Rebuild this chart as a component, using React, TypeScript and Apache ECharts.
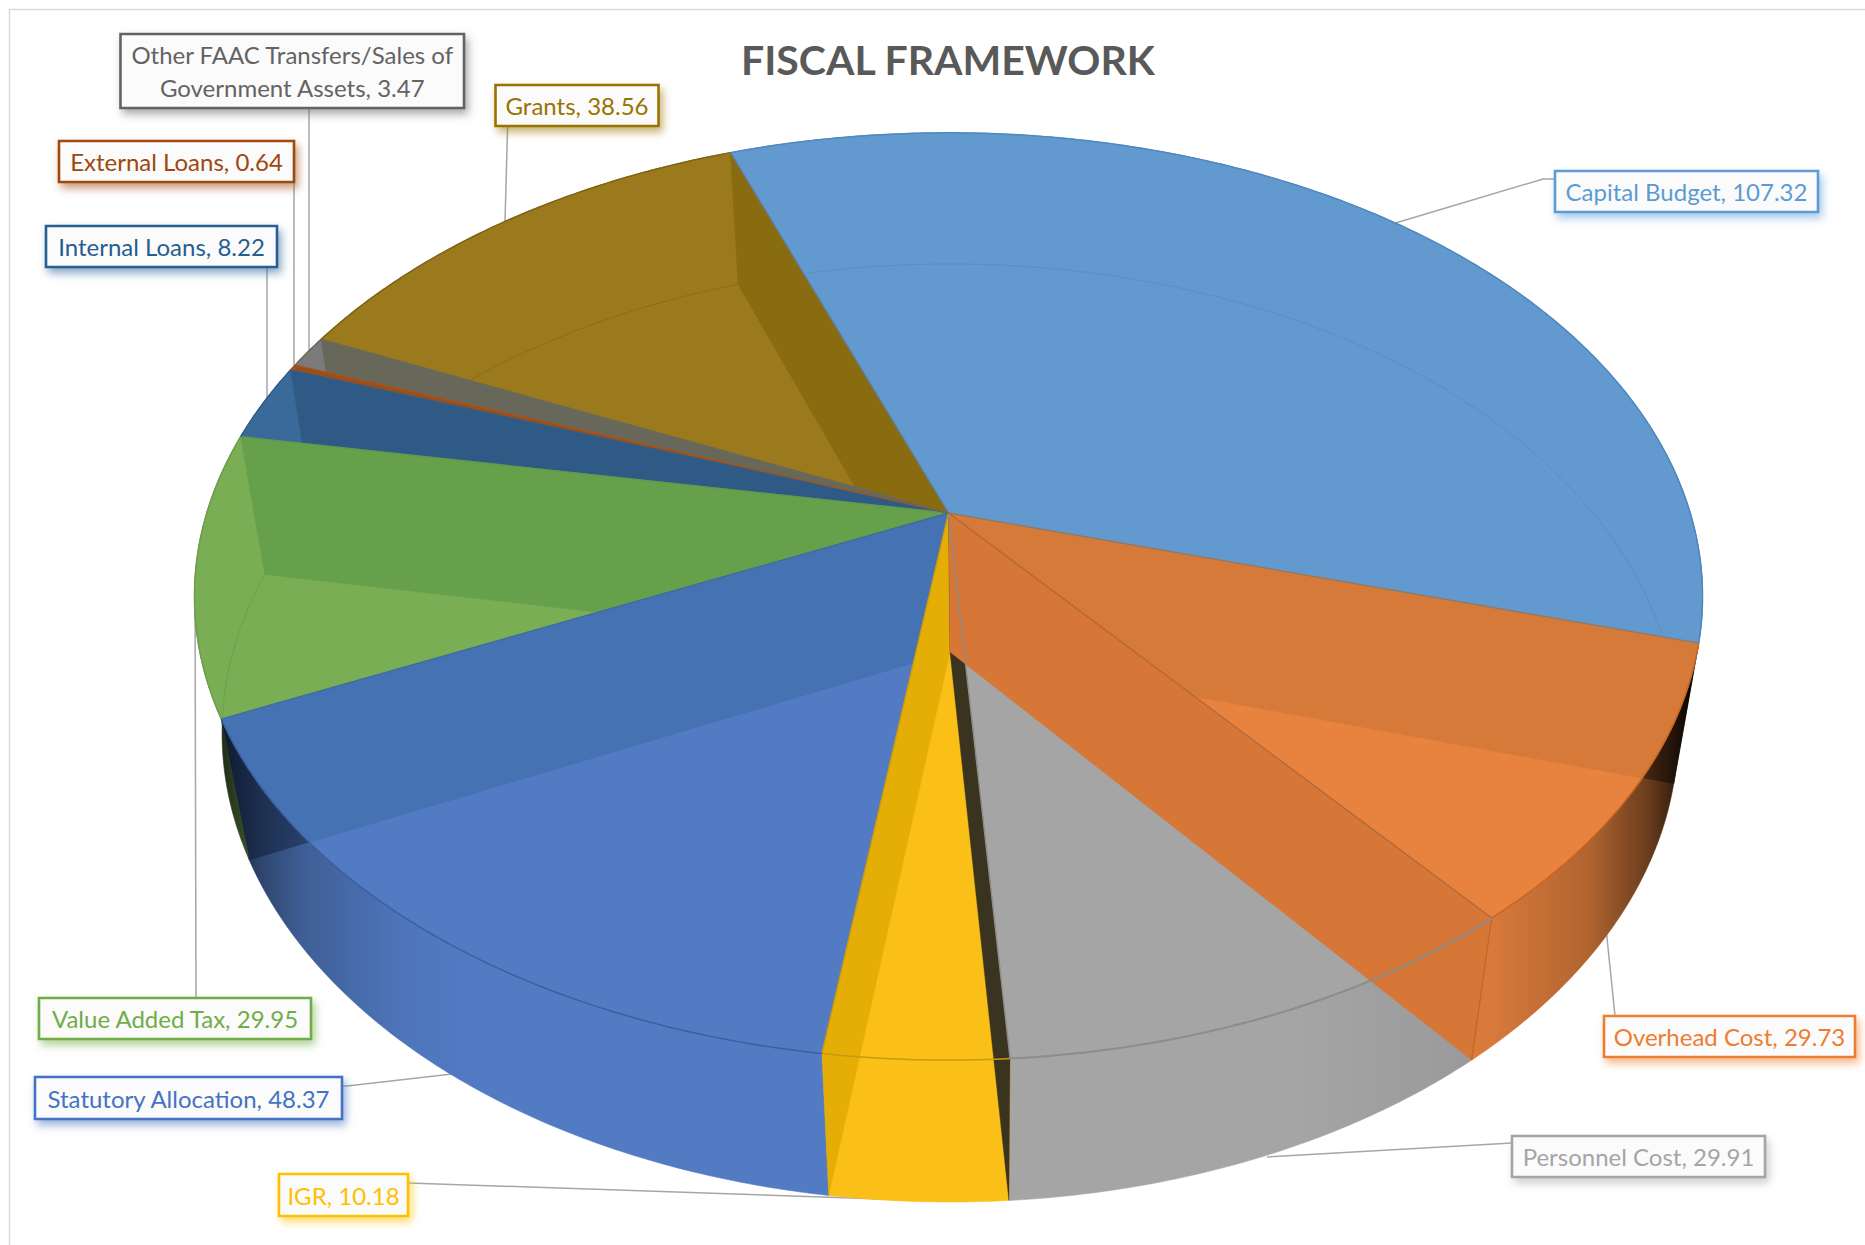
import React, { useEffect, useRef } from "react";
import * as echarts from "echarts";

// Budget items, clockwise from the first slice
const categories = [
  "Capital Budget",
  "Overhead Cost",
  "Personnel Cost",
  "IGR",
  "Statutory Allocation",
  "Value Added Tax",
  "Internal Loans",
  "External Loans",
  "Other FAAC Transfers/Sales of Government Assets",
  "Grants",
];
const values = [107.32, 29.73, 29.91, 10.18, 48.37, 29.95, 8.22, 0.64, 3.47, 38.56];

type Pt = number[];
const W = 1865;
const H = 1245;
const FONT = "Lato";
const START_ANGLE = -20.1;

// Perspective views of the disc's upper and lower faces
const upperFace = { cx: 948.5, cy: 513, a: 741.7, b: 448.6, k: 0.18 };
const lowerFace = { cx: 950, cy: 652, a: 717, b: 455, k: 0.1727 };

const faceColors = ["#6299CE", "#E8833F", "#A5A5A5", "#FAC017", "#527BC4", "#7AAE55", "#3A6A9A", "#A5541C", "#7B7B7B", "#9A7A1C"];
const labelColors = ["#5B9BD5", "#ED7D31", "#A5A5A5", "#FFC000", "#4472C4", "#70AD47", "#255E91", "#9E480E", "#636363", "#997300"];
const edgeColors = ["#8C7A6A", "#B0683A", "#8C8C8C", "#C79A10", "#3F6D9F", "#5F9A50", "#2E5F8C", "#A5551E", "#6A6A5A", "#5F7FA0"];
const rimColors = ["#4F88C0", "#C8651F", "#8C8C8C", "#C79A10", "#3A609F", "#6D9F4B", "#2E5F8C", "#A5551E", "#6A6A5A", "#7F6415"];

// Each slice's sweep in degrees
const total = values.reduce((s, v) => s + v, 0);
const sweeps: number[][] = [];
values.reduce((from, v) => {
  const to = from + (v / total) * 360;
  sweeps.push([from, to]);
  return to;
}, START_ANGLE);

function project(face: typeof upperFace, deg: number): Pt {
  const t = (deg * Math.PI) / 180;
  const w = 1 + face.k * Math.cos(t);
  return [face.cx + (face.a * Math.sin(t)) / w, face.cy - (face.b * Math.cos(t)) / w];
}

function arc(face: typeof upperFace, from: number, to: number, step = 0.5): Pt[] {
  const n = Math.max(2, Math.ceil((to - from) / step));
  const out: Pt[] = [];
  for (let i = 0; i <= n; i++) out.push(project(face, from + ((to - from) * i) / n));
  return out;
}

const apexUp: Pt = [upperFace.cx, upperFace.cy];
const apexLow: Pt = [lowerFace.cx, lowerFace.cy];
const sectorOf = (i: number): Pt[] => [apexUp, ...arc(upperFace, sweeps[i][0], sweeps[i][1])];

const cross = (a: Pt, b: Pt, p: Pt) => (b[0] - a[0]) * (p[1] - a[1]) - (b[1] - a[1]) * (p[0] - a[0]);

// Convex clip of a polygon against a clockwise sector
function clipTo(subject: Pt[], clipper: Pt[]): Pt[] {
  let out = subject;
  for (let i = 0; i < clipper.length; i++) {
    const a = clipper[i];
    const b = clipper[(i + 1) % clipper.length];
    if (Math.hypot(a[0] - b[0], a[1] - b[1]) < 1e-6) continue;
    const input = out;
    out = [];
    for (let j = 0; j < input.length; j++) {
      const p = input[j];
      const q = input[(j + 1) % input.length];
      const dp = cross(a, b, p);
      const dq = cross(a, b, q);
      if (dp >= 0) out.push(p);
      if (dp >= 0 !== dq >= 0) {
        const s = dp / (dp - dq);
        out.push([p[0] + (q[0] - p[0]) * s, p[1] + (q[1] - p[1]) * s]);
      }
    }
    if (!out.length) break;
  }
  return out;
}

const insideSector = (p: Pt, poly: Pt[]) =>
  poly.every((a, i) => {
    const b = poly[(i + 1) % poly.length];
    return Math.hypot(a[0] - b[0], a[1] - b[1]) < 1e-6 || cross(a, b, p) >= -0.01;
  });

// Radial wall standing on one slice boundary
const wallQuad = (deg: number): Pt[] => [apexUp, project(upperFace, deg), project(lowerFace, deg), apexLow];

const channels = (hex: string) => {
  const n = parseInt(hex.slice(1), 16);
  return [(n >> 16) & 255, (n >> 8) & 255, n & 255];
};

function shade(hex: string, f: number) {
  const c = channels(hex).map((v) => Math.round(v * f));
  return `rgb(${c[0]},${c[1]},${c[2]})`;
}

function tint(hex: string, alpha: number) {
  const c = channels(hex);
  return `rgba(${c[0]},${c[1]},${c[2]},${alpha})`;
}

// Outer wall light falls off towards both sides of the disc
const X0 = 195;
const X1 = 1705;
const falloff = [
  [195, 0.1],
  [225, 0.28],
  [260, 0.55],
  [300, 0.76],
  [400, 0.95],
  [480, 1],
  [1300, 1],
  [1400, 0.96],
  [1490, 0.93],
  [1590, 0.76],
  [1650, 0.45],
  [1690, 0.1],
  [1705, 0.05],
];
const outerFill = (i: number) =>
  new echarts.graphic.LinearGradient(
    X0,
    0,
    X1,
    0,
    falloff.map(([x, f]) => ({ offset: (x - X0) / (X1 - X0), color: shade(faceColors[i], f) })),
    true
  );

const poly = (points: Pt[], style: any) => ({ type: "polygon", silent: true, shape: { points }, style });
const line = (points: Pt[], stroke: string, lineWidth = 1.2) => ({
  type: "polyline",
  silent: true,
  shape: { points },
  style: { fill: "none", stroke, lineWidth, lineJoin: "round" },
});

// Walls in paint order; later ones lie over the earlier ones
const walls = [
  { slice: 9, at: 1, clip: true, color: "#8A6C10" },
  { slice: 8, at: 1, clip: true, color: "#68685A" },
  { slice: 7, at: 1, clip: true, color: "#9A4E1B" },
  { slice: 6, at: 1, clip: true, color: "#2F5A85" },
  { slice: 5, at: 1, clip: true, color: "#66A04A" },
  { slice: 4, at: 1, clip: true, color: "#4572B3" },
  { slice: 3, at: 1, clip: false, color: "#E5AE06" },
  { slice: 2, at: 1, clip: false, color: "#3A3320" },
  { slice: 1, at: 0, clip: true, color: "#D67A3A" },
  { slice: 1, at: 1, clip: false, color: "#D67737" },
];

// Walls showing through the outer skin, darkening it
const wallShadows = [
  { slice: 4, at: 1, color: "rgba(8,18,40,0.42)" },
  { slice: 1, at: 0, color: "rgba(0,0,0,0.4)" },
  { slice: 5, at: 1, color: "rgba(0,0,0,0.3)" },
];

// Lower rim seen through the translucent top
const lowerRims = [
  { slice: 0, color: "#5690C4" },
  { slice: 9, color: "#8A6D15" },
  { slice: 5, color: "#6D9F4B" },
];

// Label text comes from the category and its value; the long one wraps after "of"
const labelRows = (i: number) =>
  `${categories[i]}, ${values[i].toFixed(2)}`.replace("Sales of ", "Sales of\n").split("\n");

// Label boxes and their leader lines
const boxes = [
  [1555, 171, 1818, 212],
  [1604, 1016, 1855, 1057],
  [1512, 1136, 1765, 1177],
  [279, 1174, 408, 1216],
  [35, 1077, 342, 1119],
  [39, 998, 311, 1039],
  [46, 226, 277, 267],
  [59, 141, 294, 182],
  [120.5, 34, 464, 108],
  [495.5, 85, 658.5, 126],
];
const leaders: Pt[][] = [
  [[1555, 179], [1543, 179], [1395.5, 223]],
  [[1615, 1016], [1606, 928]],
  [[1512, 1143], [1267, 1157]],
  [[408, 1183], [912, 1200]],
  [[342, 1086], [347, 1086], [452, 1074]],
  [[196, 998], [195, 590]],
  [[267, 267], [267, 402]],
  [[294, 182], [294, 367]],
  [[309, 108], [309, 350]],
  [[507.6, 126], [505, 222]],
];

function layer(items: any[], draw: (item: any, i: number) => any) {
  return {
    type: "custom",
    coordinateSystem: "none",
    silent: true,
    animation: false,
    data: items.map((_, i) => i),
    renderItem: (params: any) => draw(items[params.dataIndex], params.dataIndex),
  };
}

const sliceIdx = values.map((_, i) => i);

function buildOption() {
  return {
    animation: false,
    backgroundColor: "#ffffff",
    title: {
      text: "FISCAL FRAMEWORK",
      left: 736,
      top: 34,
      textStyle: { fontFamily: FONT, fontWeight: "bold", fontSize: 41, color: "#595959" },
    },
    graphic: [
      {
        type: "polyline",
        silent: true,
        shape: { points: [[W, 9.5], [9.5, 9.5], [9.5, H]] },
        style: { fill: "none", stroke: "#D9D9D9", lineWidth: 1.5 },
        z: -1,
      },
    ],
    series: [
      layer(leaders, (pts) => ({
        type: "group",
        children: [line(pts, "#A6A6A6", 1.5)],
      })),
      // outer skin
      layer(sliceIdx, (i) => {
        const fill = outerFill(i);
        const [from, to] = sweeps[i];
        return poly([...arc(upperFace, from, to), ...arc(lowerFace, from, to).reverse()], {
          fill,
          stroke: fill,
          lineWidth: 0.6,
        });
      }),
      layer(wallShadows, (w) => poly(wallQuad(sweeps[w.slice][w.at]), { fill: w.color })),
      // top faces
      layer(sliceIdx, (i) => poly(sectorOf(i), { fill: faceColors[i], stroke: faceColors[i], lineWidth: 0.6 })),
      layer(lowerRims, (r) => {
        const [from, to] = sweeps[r.slice];
        const sector = sectorOf(r.slice);
        const pts = arc(lowerFace, from, to, 0.25).filter((p) => insideSector(p, sector));
        return line(pts, r.color, 1);
      }),
      // radial walls
      layer(walls, (w) => {
        const quad = wallQuad(sweeps[w.slice][w.at]);
        const pts = w.clip ? clipTo(quad, sectorOf(w.slice)) : quad;
        return poly(pts, { fill: w.color, stroke: w.color, lineWidth: 0.4 });
      }),
      // rim and boundary strokes
      layer(sliceIdx, (i) => {
        const [from, to] = sweeps[i];
        const children: any[] = [
          line(arc(upperFace, from, to), rimColors[i], i === 2 ? 2 : 1.5),
          line([apexUp, project(upperFace, to)], edgeColors[i], 1.3),
        ];
        if (i === 1) children.push(line([project(upperFace, to), project(lowerFace, to)], "#C8651F", 1.3));
        return { type: "group", children };
      }),
      // label boxes
      layer(boxes, (b, i) => {
        const [x0, y0, x1, y1] = b;
        const color = labelColors[i];
        const rows = labelRows(i);
        const cx = (x0 + x1) / 2;
        const rowH = 33.5;
        const midY = (y0 + y1) / 2;
        return {
          type: "group",
          children: [
            {
              type: "rect",
              silent: true,
              shape: { x: x0, y: y0, width: x1 - x0, height: y1 - y0 },
              style: {
                fill: "#FBFBFB",
                stroke: color,
                lineWidth: 2.6,
                shadowBlur: 8,
                shadowOffsetX: 3,
                shadowOffsetY: 5,
                shadowColor: tint(color, 0.55),
              },
            },
            ...rows.map((row: string, r: number) => ({
              type: "text",
              silent: true,
              x: cx,
              y: midY + (r - (rows.length - 1) / 2) * rowH,
              style: {
                x: 0,
                y: 0,
                text: row,
                fill: color,
                fontFamily: FONT,
                fontSize: 24,
                align: "center",
                verticalAlign: "middle",
              },
            })),
          ],
        };
      }),
    ],
  };
}

export default function App() {
  const ref = useRef<HTMLDivElement>(null);
  useEffect(() => {
    const chart = echarts.init(ref.current!, undefined, { renderer: "svg" });
    chart.setOption(buildOption() as any);
    return () => chart.dispose();
  }, []);
  return <div ref={ref} style={{ position: "absolute", left: 0, top: 0, width: W, height: H, background: "#fff" }} />;
}
